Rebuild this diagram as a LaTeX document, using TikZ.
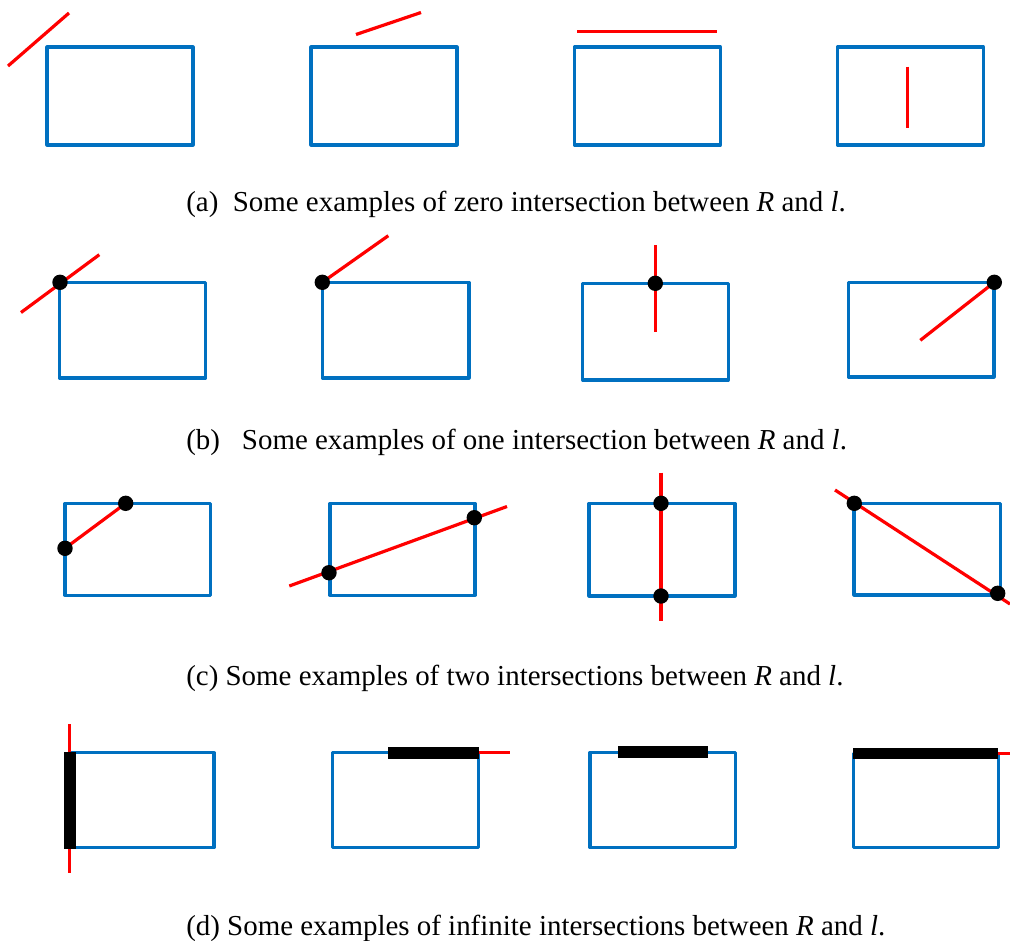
\documentclass[tikz,border=0pt]{standalone}
\usepackage{fontspec}
\setmainfont{Liberation Serif}
\begin{document}
\begin{tikzpicture}[x=0.75pt,y=-0.75pt,
  rbox/.style={draw={rgb,255:red,0;green,112;blue,192},line width=2.3pt,line join=round},
  rline/.style={draw=red,line width=2.4pt},
  ipt/.style={fill=black},
  ibar/.style={fill=black},
  captext/.style={anchor=base west,inner sep=0pt,font=\fontsize{21.7}{26}\selectfont}]
\useasboundingbox (0,0) rectangle (1010,940);
% ---- row (a)
\draw[rbox] (47,47) rectangle (193,145);
\draw[rline] (8,66) -- (69,13);
\draw[rbox] (311,47) rectangle (457,145);
\draw[rline] (356,34.5) -- (421,12.5);
\draw[rbox] (574.5,47) rectangle (720.5,145);
\draw[rline] (577,31.5) -- (717,31.5);
\draw[rbox] (837.5,47) rectangle (983.5,145);
\draw[rline] (907.7,66.5) -- (907.7,127.5);
\node[captext] (ca) at (186,211) {(a)\hspace{0.5em}Some examples of zero intersection between \textit{R} and \textit{l}.};
% ---- row (b)
\draw[rbox] (59.5,282.3) rectangle (205.7,378);
\coordinate (b1) at (60,282.3);
\draw[rline] (21,312.5) -- (99.3,254.7);
\fill[ipt] (b1) circle (7.7);
\draw[rbox] (322.3,282.3) rectangle (469,378);
\coordinate (b2) at (322.3,282.3);
\draw[rline] (b2) -- (388.3,235.7);
\fill[ipt] (b2) circle (7.7);
\draw[rbox] (582.7,283.3) rectangle (728.3,380);
\coordinate (b3) at (655.3,283.3);
\draw[rline] (655.3,245) -- (655.3,332.3);
\fill[ipt] (b3) circle (7.7);
\draw[rbox] (848.3,282.3) rectangle (994,377);
\coordinate (b4) at (994.3,282.3);
\draw[rline] (920.3,340.3) -- (b4);
\fill[ipt] (b4) circle (7.7);
\node[captext] (cb) at (186,449) {(b)\hspace{0.76em}Some examples of one intersection between \textit{R} and \textit{l}.};
% ---- row (c)
\draw[rbox] (65,503.3) rectangle (210.7,595.3);
\coordinate (c1a) at (65,548.3);
\coordinate (c1b) at (125.7,503.3);
\draw[rline] (c1a) -- (c1b);
\fill[ipt] (c1a) circle (7.7);
\fill[ipt] (c1b) circle (7.7);
\draw[rbox] (330,503.3) rectangle (475,595.3);
\coordinate (c2a) at (329,572.7);
\coordinate (c2b) at (474.3,517.7);
\draw[rline] (289.3,586) -- (507,506.5);
\fill[ipt] (c2a) circle (7.7);
\fill[ipt] (c2b) circle (7.7);
\draw[rbox] (589,503.3) rectangle (735,596);
\coordinate (c3a) at (661,503.3);
\coordinate (c3b) at (661,596);
\draw[rline] (661,472.7) -- (661,621);
\fill[ipt] (c3a) circle (7.7);
\fill[ipt] (c3b) circle (7.7);
\draw[rbox] (854,503.3) rectangle (1000.7,595);
\coordinate (c4a) at (854.3,503.3);
\coordinate (c4b) at (997.7,593.3);
\draw[rline] (835,490) -- (1010,604);
\fill[ipt] (c4a) circle (7.7);
\fill[ipt] (c4b) circle (7.7);
\node[captext] (cc) at (186,685) {(c) Some examples of two intersections between \textit{R} and \textit{l}.};
% ---- row (d)
\draw[rbox] (70,752.7) rectangle (214,847.7);
\draw[rline] (69.7,724.3) -- (69.7,872.7);
\fill[ibar] (64.3,752.3) rectangle (76,849);
\draw[rbox] (332.7,752.7) rectangle (478.3,847.7);
\draw[rline] (478,752.7) -- (510,752.7);
\fill[ibar] (388.3,746.7) rectangle (479,758.7);
\draw[rbox] (590,752.3) rectangle (735.7,847.7);
\fill[ibar] (618.3,746.3) rectangle (708.3,758.3);
\draw[rbox] (853.3,753.3) rectangle (998.3,847.7);
\draw[rline] (997,753.3) -- (1010,753.3);
\fill[ibar] (853.3,747.7) rectangle (997.7,759.3);
\node[captext] (cd) at (186,935) {(d) Some examples of infinite intersections between \textit{R} and \textit{l}.};
\end{tikzpicture}
\end{document}
